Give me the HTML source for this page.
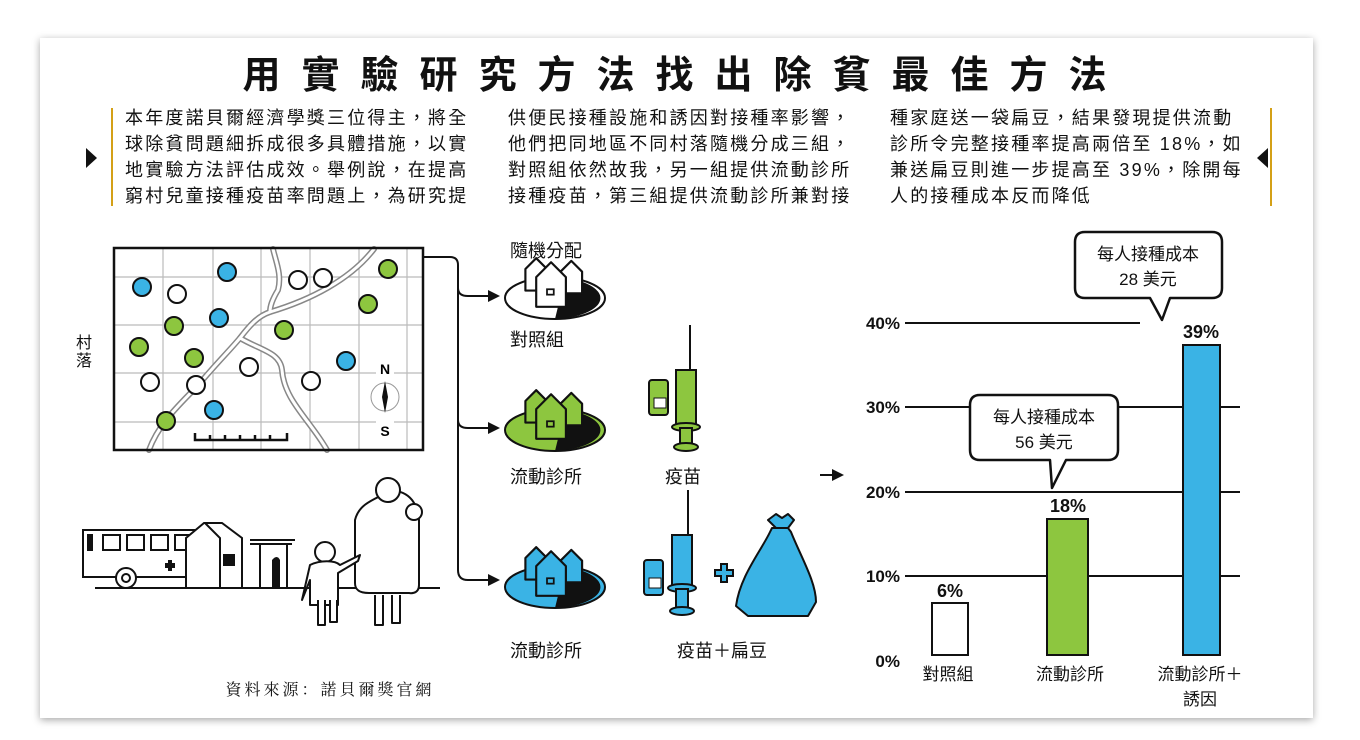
<!DOCTYPE html><html><head><meta charset="utf-8"><style>
body{margin:0;background:#fff;width:1360px;height:735px;overflow:hidden}
svg text{font-family:"Liberation Sans","Noto Sans CJK TC",sans-serif}
</style></head><body>
<svg width="1360" height="735" viewBox="0 0 1360 735" xmlns="http://www.w3.org/2000/svg">
<defs><filter id="sh" x="-5%" y="-5%" width="110%" height="110%"><feDropShadow dx="0" dy="2" stdDeviation="4" flood-color="#000" flood-opacity="0.35"/></filter>
<g id="houses"><g stroke="#111" stroke-width="1.6" stroke-linejoin="round">
<path d="M-16,-20 l8,-8 8,8 v16 h-16z"/><path d="M10,-18 l8,-8 8,8 v16 h-16z"/><path d="M-8,-14 l11,-11 11,11 v22 h-22z"/></g>
<rect x="0" y="-5" width="5" height="4" fill="none" stroke="#111" stroke-width="1.3"/></g></defs>
<rect x="40" y="38" width="1273" height="680" fill="#fff" filter="url(#sh)"/>
<text x="685" y="88" text-anchor="middle" font-size="38" font-weight="bold" letter-spacing="21" fill="#111">用實驗研究方法找出除貧最佳方法</text>
<line x1="112" y1="108" x2="112" y2="206" stroke="#d4a017" stroke-width="2"/>
<line x1="1271" y1="108" x2="1271" y2="206" stroke="#d4a017" stroke-width="2"/>
<path d="M86,148 l11,10 -11,10z" fill="#111"/><path d="M1268,148 l-11,10 11,10z" fill="#111"/>
<g font-size="18" fill="#111" letter-spacing="2.2">
<text x="125" y="124">本年度諾貝爾經濟學獎三位得主，將全</text>
<text x="125" y="150">球除貧問題細拆成很多具體措施，以實</text>
<text x="125" y="176">地實驗方法評估成效。舉例說，在提高</text>
<text x="125" y="202">窮村兒童接種疫苗率問題上，為研究提</text>
<text x="508" y="124">供便民接種設施和誘因對接種率影響，</text>
<text x="508" y="150">他們把同地區不同村落隨機分成三組，</text>
<text x="508" y="176">對照組依然故我，另一組提供流動診所</text>
<text x="508" y="202">接種疫苗，第三組提供流動診所兼對接</text>
<text x="890" y="124">種家庭送一袋扁豆，結果發現提供流動</text>
<text x="890" y="150">診所令完整接種率提高兩倍至 18%，如</text>
<text x="890" y="176">兼送扁豆則進一步提高至 39%，除開每</text>
<text x="890" y="202">人的接種成本反而降低</text>
</g>
<text x="76" y="348" font-size="16" fill="#111">村</text><text x="76" y="366" font-size="16" fill="#111">落</text>
<g stroke="#bbb" stroke-width="1.2">
<line x1="163" y1="248" x2="163" y2="450"/><line x1="213" y1="248" x2="213" y2="450"/><line x1="261" y1="248" x2="261" y2="450"/><line x1="310" y1="248" x2="310" y2="450"/><line x1="359" y1="248" x2="359" y2="450"/><line x1="407" y1="248" x2="407" y2="450"/>
<line x1="114" y1="277" x2="423" y2="277"/><line x1="114" y1="325" x2="423" y2="325"/><line x1="114" y1="373" x2="423" y2="373"/><line x1="114" y1="422" x2="423" y2="422"/></g>
<g fill="none" stroke-linecap="round">
<g stroke="#888" stroke-width="6"><path d="M149,450 C160,420 185,400 200,383 C215,365 230,350 240,338 C250,325 258,316 270,312 C310,300 350,280 374,249"/><path d="M240,338 C260,350 280,352 282,370 C284,400 310,420 327,450"/><path d="M273,249 C276,262 282,275 278,290 C272,300 270,306 270,312"/></g>
<g stroke="#fff" stroke-width="3"><path d="M149,450 C160,420 185,400 200,383 C215,365 230,350 240,338 C250,325 258,316 270,312 C310,300 350,280 374,249"/><path d="M240,338 C260,350 280,352 282,370 C284,400 310,420 327,450"/><path d="M273,249 C276,262 282,275 278,290 C272,300 270,306 270,312"/></g></g>
<rect x="114" y="248" width="309" height="202" fill="none" stroke="#111" stroke-width="2.5"/>
<g stroke="#111" stroke-width="2">
<g fill="#3ab3e5"><circle cx="142" cy="287" r="9"/><circle cx="227" cy="272" r="9"/><circle cx="219" cy="318" r="9"/><circle cx="214" cy="410" r="9"/><circle cx="346" cy="361" r="9"/></g>
<g fill="#8dc63f"><circle cx="174" cy="326" r="9"/><circle cx="139" cy="347" r="9"/><circle cx="194" cy="358" r="9"/><circle cx="166" cy="421" r="9"/><circle cx="388" cy="269" r="9"/><circle cx="368" cy="304" r="9"/><circle cx="284" cy="330" r="9"/></g>
<g fill="#fff"><circle cx="177" cy="294" r="9"/><circle cx="150" cy="382" r="9"/><circle cx="196" cy="385" r="9"/><circle cx="298" cy="280" r="9"/><circle cx="323" cy="278" r="9"/><circle cx="249" cy="367" r="9"/><circle cx="311" cy="381" r="9"/></g></g>
<path d="M195,433 v7 h92 v-7 M210,440v-5 M225,440v-5 M240,440v-5 M255,440v-5 M270,440v-5" fill="none" stroke="#111" stroke-width="2.5"/>
<rect x="376" y="360" width="18" height="16" fill="#fff"/><rect x="376" y="420" width="18" height="18" fill="#fff"/>
<text x="385" y="374" text-anchor="middle" font-size="14" font-weight="bold">N</text>
<text x="385" y="436" text-anchor="middle" font-size="14" font-weight="bold">S</text>
<circle cx="385" cy="397" r="14" fill="none" stroke="#999" stroke-width="1"/>
<path d="M385,381 l3,16 -3,16 -3,-16z" fill="#111"/>
<path d="M423,257 H450 q8,0 8,8 V570 q0,10 10,10 H490 M458,288 q0,8 10,8 H490 M458,420 q0,8 10,8 H490" fill="none" stroke="#111" stroke-width="2"/>
<path d="M488,290 l12,6 -12,6z M488,422 l12,6 -12,6z M488,574 l12,6 -12,6z" fill="#111"/>
<g transform="translate(555,298)"><ellipse rx="50" ry="21" fill="#fff" stroke="#111" stroke-width="2"/><path d="M10,-20 A50,21 0 0 1 0,21 L10,-20" fill="#111"/><g transform="translate(-8,-2) scale(1.35)" fill="#fff"><use href="#houses"/></g></g>
<g transform="translate(555,430)"><ellipse rx="50" ry="21" fill="#8dc63f" stroke="#111" stroke-width="2"/><path d="M10,-20 A50,21 0 0 1 0,21 L10,-20" fill="#111"/><g transform="translate(-8,-2) scale(1.35)" fill="#8dc63f"><use href="#houses"/></g></g>
<g transform="translate(555,587)"><ellipse rx="50" ry="21" fill="#3ab3e5" stroke="#111" stroke-width="2"/><path d="M10,-20 A50,21 0 0 1 0,21 L10,-20" fill="#111"/><g transform="translate(-8,-2) scale(1.35)" fill="#3ab3e5"><use href="#houses"/></g></g>
<g font-size="18" fill="#111">
<text x="510" y="257">隨機分配</text><text x="510" y="346">對照組</text>
<text x="510" y="483">流動診所</text><text x="510" y="657">流動診所</text>
<text x="665" y="483">疫苗</text><text x="677" y="657">疫苗＋扁豆</text></g>
<g stroke="#111" stroke-width="2">
<line x1="690" y1="325" x2="690" y2="372"/>
<rect x="676" y="370" width="20" height="55" fill="#8dc63f"/><ellipse cx="686" cy="427" rx="14" ry="4" fill="#8dc63f"/><rect x="680" y="428" width="12" height="18" fill="#8dc63f"/><ellipse cx="686" cy="447" rx="12" ry="4" fill="#8dc63f"/>
<rect x="649" y="380" width="19" height="35" rx="3" fill="#8dc63f"/><rect x="654" y="398" width="12" height="10" fill="#fff" stroke-width="1"/>
<line x1="688" y1="490" x2="688" y2="537"/>
<rect x="672" y="535" width="20" height="50" fill="#3ab3e5"/><ellipse cx="682" cy="588" rx="14" ry="4" fill="#3ab3e5"/><rect x="676" y="589" width="12" height="20" fill="#3ab3e5"/><ellipse cx="682" cy="611" rx="12" ry="4" fill="#3ab3e5"/>
<rect x="644" y="560" width="19" height="35" rx="3" fill="#3ab3e5"/><rect x="649" y="578" width="12" height="10" fill="#fff" stroke-width="1"/>
<path d="M715,570 h6 v-6 h6 v6 h6 v6 h-6 v6 h-6 v-6 h-6z" fill="#3ab3e5"/>
<path d="M768,520 l8,-6 6,4 6,-4 6,6 -6,8 h-12z M772,528 h16 l3,4 c10,25 25,50 25,70 l-8,14 h-60 l-12,-10 c4,-30 25,-55 34,-74z" fill="#3ab3e5" stroke-linejoin="round"/>
</g>
<g stroke="#111" stroke-width="2" fill="#fff">
<rect x="83" y="530" width="115" height="47"/><rect x="88" y="535" width="4" height="15" fill="#111"/>
<rect x="103" y="535" width="17" height="15"/><rect x="127" y="535" width="17" height="15"/><rect x="151" y="535" width="17" height="15"/><rect x="175" y="535" width="17" height="15"/>
<circle cx="126" cy="578" r="10"/><circle cx="126" cy="578" r="4"/>
<path d="M186,538 l18,-15 h18 l20,15 v50 h-56z"/><path d="M205,523 l15,15 v50"/>
<rect x="224" y="555" width="10" height="10" fill="#111"/>
<path d="M250,540 h45 M250,544 h42 M260,544 v44 M287,544 v44"/>
</g>
<path d="M165,563 h10 v5 h-10z M168,560 h4 v11 h-4z" fill="#111"/>
<path d="M272,588 v-28 q5,-6 8,0 v28z" fill="#111"/>
<line x1="95" y1="588" x2="440" y2="588" stroke="#111" stroke-width="2"/>
<g stroke="#111" stroke-width="2" fill="#fff" stroke-linejoin="round">
<path d="M355,520 c5,-20 25,-20 32,-30 c20,0 30,10 32,30 v65 c0,10 -10,8 -10,8 h-40 c-12,0 -14,-5 -14,-10z"/>
<path d="M375,595 v30 h8 v-30 M392,595 v28 h8 v-28"/>
<circle cx="388" cy="490" r="12"/><circle cx="414" cy="512" r="8"/>
<circle cx="325" cy="552" r="10"/>
<path d="M310,565 c10,-5 25,-5 30,0 l20,-10 -2,6 -20,12 v32 h-28 v-25 l-8,20z"/>
<path d="M318,600 v25 h7 v-25 M330,600 v22 h7 v-22"/>
</g>
<text x="330" y="695" text-anchor="middle" font-size="16" fill="#111" letter-spacing="3" style="font-family:'Noto Serif CJK SC',serif">資料來源：諾貝爾獎官網</text>
<path d="M820,475 h14" stroke="#111" stroke-width="2"/><path d="M832,469 l12,6 -12,6z" fill="#111"/>
<g stroke="#111" stroke-width="2">
<line x1="905" y1="323" x2="1140" y2="323"/>
<line x1="905" y1="407" x2="975" y2="407"/><line x1="1118" y1="407" x2="1240" y2="407"/>
<line x1="905" y1="492" x2="1240" y2="492"/><line x1="905" y1="576" x2="1240" y2="576"/>
</g>
<g font-size="17" font-weight="bold" fill="#111" text-anchor="end">
<text x="900" y="329">40%</text><text x="900" y="413">30%</text><text x="900" y="498">20%</text><text x="900" y="582">10%</text><text x="900" y="667">0%</text></g>
<rect x="932" y="603" width="36" height="52" fill="#fff" stroke="#111" stroke-width="2"/>
<rect x="1047" y="519" width="41" height="136" fill="#8dc63f" stroke="#111" stroke-width="2"/>
<rect x="1183" y="345" width="37" height="310" fill="#3ab3e5" stroke="#111" stroke-width="2"/>
<g font-size="18" font-weight="bold" fill="#111" text-anchor="middle">
<text x="950" y="597">6%</text><text x="1068" y="512">18%</text><text x="1201" y="338">39%</text></g>
<g font-size="17" fill="#111" text-anchor="middle">
<text x="948" y="680">對照組</text><text x="1070" y="680">流動診所</text><text x="1200" y="680">流動診所＋</text><text x="1200" y="705">誘因</text></g>
<g fill="#fff" stroke="#111" stroke-width="2.5" stroke-linejoin="round">
<path d="M980,395 h128 q10,0 10,10 v45 q0,10 -10,10 h-42 l-14,28 l-2,-28 h-70 q-10,0 -10,-10 v-45 q0,-10 10,-10z"/>
<path d="M1085,232 h127 q10,0 10,10 v46 q0,10 -10,10 h-42 l-8,22 l-12,-22 h-65 q-10,0 -10,-10 v-46 q0,-10 10,-10z"/>
</g>
<g font-size="17" fill="#111" text-anchor="middle">
<text x="1044" y="423">每人接種成本</text><text x="1044" y="448">56 美元</text>
<text x="1148" y="260">每人接種成本</text><text x="1148" y="285">28 美元</text></g>
</svg>
</body></html>
